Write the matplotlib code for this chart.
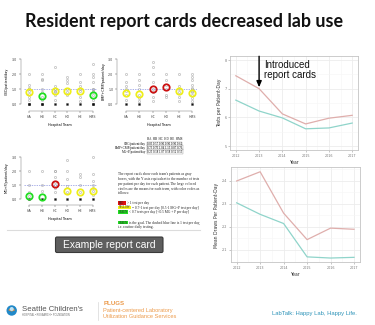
import matplotlib
matplotlib.use("Agg")
import matplotlib.pyplot as plt
from matplotlib.patches import FancyBboxPatch, Rectangle, Circle, Wedge

# ---------------- data ----------------
years = [2012, 2013, 2014, 2015, 2016, 2017]
tests_group1 = [7.45, 7.00, 6.12, 5.77, 5.97, 6.07]
tests_group2 = [6.60, 6.22, 5.98, 5.60, 5.63, 5.80]
draws_group1 = [2.400, 2.440, 2.260, 2.145, 2.195, 2.190]
draws_group2 = [2.305, 2.255, 2.215, 2.070, 2.065, 2.068]

teams = ["HA", "HB", "HC", "HD", "HE", "HMS"]
cbc_means = [0.83, 0.57, 0.90, 0.90, 0.90, 0.62]
bmp_means = [0.73, 0.70, 1.04, 1.15, 0.87, 0.76]
mgp_means = [0.25, 0.18, 1.07, 0.58, 0.52, 0.55]
cbc_colors = ["yellow", "green", "yellow", "yellow", "yellow", "green"]
bmp_colors = ["yellow", "yellow", "red", "red", "yellow", "yellow"]
mgp_colors = ["green", "green", "red", "yellow", "yellow", "yellow"]

cbc_patients = [
    [2.0, 1.3, 1.1, 1.0, 0.9, 0.7, 0.5, 0.3, 0.0, 0.0],
    [2.0, 1.7, 1.6, 1.0, 0.8, 0.5, 0.3, 0.0, 0.0],
    [2.5, 1.2, 1.0, 0.9, 0.8, 0.6, 0.3, 0.0],
    [1.8, 1.6, 1.4, 1.0, 0.8, 0.6, 0.0],
    [2.0, 1.5, 1.2, 1.0, 0.9, 0.5, 0.2, 0.0],
    [2.7, 2.0, 1.8, 1.5, 1.0, 1.0, 0.9, 0.8, 0.6, 0.3, 0.0, 0.0],
]
bmp_patients = [
    [2.0, 1.5, 1.2, 1.0, 0.9, 0.6, 0.3, 0.0],
    [2.0, 1.6, 1.3, 1.0, 0.6, 0.4, 0.2, 0.0],
    [2.8, 2.5, 2.0, 1.5, 1.0, 0.8, 0.5, 0.2],
    [2.0, 1.6, 1.3, 1.0, 0.6, 0.5],
    [2.0, 1.2, 1.0, 0.8, 0.5, 0.2],
    [2.0, 1.8, 1.6, 1.3, 1.1, 1.0, 0.9, 0.8, 0.6, 0.4, 0.2, 0.0],
]
mgp_patients = [
    [2.0, 1.0, 0.5, 0.2, 0.0],
    [2.0, 1.0, 0.6, 0.0],
    [2.0, 2.0, 1.6, 1.2, 1.0, 0.8, 0.5, 0.0],
    [2.8, 2.0, 1.4, 0.9, 0.5, 0.0],
    [1.8, 1.6, 1.0, 0.5, 0.0],
    [3.0, 1.8, 1.3, 1.0, 0.8, 0.6, 0.3, 0.0],
]

W, H = 375, 325
fig = plt.figure(figsize=(W / 100, H / 100), dpi=100)
fig.patch.set_facecolor("white")


def box(x0, y0, x1, y1):
    return [x0 / W, 1 - y1 / H, (x1 - x0) / W, (y1 - y0) / H]


# overlay in pixel coordinates for slide furniture
ov = fig.add_axes([0, 0, 1, 1])
ov.set_xlim(0, W)
ov.set_ylim(H, 0)
ov.axis("off")

SANS = ["Liberation Sans", "DejaVu Sans"]
SERIF = ["Liberation Serif", "DejaVu Serif"]

ov.text(184, 22, "Resident report cards decreased lab use", ha="center", va="center",
        fontsize=12.9, fontweight="bold", family=["Lato", "DejaVu Sans"], color="#111111")

# ---------------- report card ----------------
mark_col = {"yellow": "#eeee1a", "green": "#22dd22", "red": "#cc1111"}


def card_panel(rect, patients, means, colors, ylab):
    ax = fig.add_axes(box(*rect))
    ax.set_xlim(-0.45, 5.35)
    ax.set_ylim(-0.25, 3.3)
    for i, vals in enumerate(patients):
        for v in vals:
            if v == 0.0:
                ax.plot(i, v, "s", ms=1.4, mfc="#111111", mec="#111111", mew=0.2)
            else:
                ax.plot(i, v, "s", ms=1.2, mfc="none", mec="#9a9a9a", mew=0.35)
    ax.axhline(1.0, color="#8a93e0", lw=0.5, ls=(0, (2, 1.5)))
    for i, (m, c) in enumerate(zip(means, colors)):
        ax.plot(i, m, "o", ms=4.6, mfc="none", mec=mark_col[c], mew=1.3)
    ax.set_xticks(range(len(teams)))
    ax.set_xticklabels(teams)
    ax.set_yticks([0, 1, 2, 3])
    ax.set_yticklabels(["0.0", "1.0", "2.0", "3.0"], rotation=90, va="center")
    ax.tick_params(labelsize=2.3, length=1.2, width=0.3, pad=1.5, colors="#444444")
    for s in ["top", "right"]:
        ax.spines[s].set_visible(False)
    for s in ["left", "bottom"]:
        ax.spines[s].set_linewidth(0.3)
        ax.spines[s].set_color("#666666")
    ax.spines["left"].set_bounds(0, 3)
    ax.spines["bottom"].set_bounds(0, 5)
    ax.spines["left"].set_position(("outward", 2))
    ax.spines["bottom"].set_position(("outward", 2))
    ax.set_xlabel("Hospital Team", fontsize=2.4, labelpad=3)
    ax.set_ylabel(ylab, fontsize=2.4, labelpad=2)
    ax.patch.set_alpha(0)
    return ax


card_panel((23.5, 55, 97, 108), cbc_patients, cbc_means, cbc_colors, "CBC/patient/day")
card_panel((120, 55, 197, 108), bmp_patients, bmp_means, bmp_colors, "BMP+CMP/patient/day")
card_panel((23.5, 153, 97, 202.5), mgp_patients, mgp_means, mgp_colors, "MG+P/patient/day")

# summary table
ov.text(147, 139.5, "  ".join(teams), fontsize=2.2, family=SERIF, ha="left", va="center")
for k, (name, vals) in enumerate([("CBC/patient/day", cbc_means),
                                  ("BMP+CMP/patient/day", bmp_means),
                                  ("MG+P/patient/day", mgp_means)]):
    y = 144 + k * 3.8
    ov.text(146, y, name, fontsize=2.3, family=SERIF, ha="right", va="center")
    ov.text(147, y, " ".join(f"{v:.2f}" for v in vals), fontsize=2.2, family=SERIF,
            ha="left", va="center",
            bbox=dict(boxstyle="square,pad=0.1", fc="none", ec="#666666", lw=0.2))

para = ["The report cards show each team's patients as gray",
        "boxes, with the Y axis equivalent to the number of tests",
        "per patient per day for each patient. The large colored",
        "circles are the means for each team, with color codes as",
        "follows:"]
for k, line in enumerate(para):
    ov.text(118, 173.5 + k * 5.0, line, fontsize=2.6, family=SERIF, ha="left", va="center",
            color="#222222")

legend_rows = [
    (203.0, "RED", "#dd1111", 8, "> 1 test per day"),
    (207.5, "YELLOW", "#f2f21a", 13, "= 0.7-1 test per day [0.5-1 MG+P test per day]"),
    (211.7, "GREEN", "#22dd22", 10, "< 0.7 tests per day [<0.5 MG + P per day]"),
    (222.5, "GREEN", "#22dd22", 10, "is the goal. The dashed blue line is 1 test per day,"),
]
for y, tag, col, w, txt in legend_rows:
    ov.add_patch(Rectangle((118, y - 1.9), w, 3.8, fc=col, ec="none"))
    ov.text(118.5, y, tag, fontsize=2.0, family=SERIF, ha="left", va="center", color="#222222")
    ov.text(118 + w + 1, y, txt, fontsize=2.6, family=SERIF, ha="left", va="center",
            color="#222222")
ov.text(118, 227, "i.e. routine daily testing.", fontsize=2.6, family=SERIF, ha="left",
        va="center", color="#222222")

ov.plot([7, 200], [229.5, 229.5], color="#dcdcdc", lw=0.8)

# caption button
ov.add_patch(FancyBboxPatch((55.5, 237), 107.5, 15.5, boxstyle="round,pad=0,rounding_size=1.5",
                            fc="#5e5e5e", ec="#3a3a3a", lw=0.8))
ov.text(109, 245, "Example report card", ha="center", va="center", fontsize=7.4,
        family=SANS, color="white")

# ---------------- trend charts ----------------
PINK = "#dfaeac"
TEAL = "#8fd4ca"


def gg(rect, y1, y2, ylim, yticks, yminor, ylab):
    ax = fig.add_axes(box(*rect))
    ax.set_xlim(2011.75, 2017.25)
    ax.set_ylim(*ylim)
    ax.set_xticks(years)
    ax.set_xticklabels([str(y) for y in years])
    ax.set_xticks([y + 0.5 for y in years[:-1]], minor=True)
    ax.set_yticks(yticks)
    ax.set_yticks(yminor, minor=True)
    ax.grid(which="major", color="#ececec", lw=0.6)
    ax.grid(which="minor", color="#f6f6f6", lw=0.4)
    ax.set_axisbelow(True)
    for s in ax.spines.values():
        s.set_color("#c4c4c4")
        s.set_linewidth(0.6)
    ax.tick_params(which="major", length=1.3, width=0.4, color="#999999", labelsize=2.4,
                   labelcolor="#777777", pad=1.2)
    ax.tick_params(which="minor", length=0)
    ax.plot(years, y1, color=PINK, lw=0.9)
    ax.plot(years, y2, color=TEAL, lw=0.9)
    ax.set_xlabel("Year", fontsize=3.3, labelpad=1.5, color="#333333")
    ax.set_ylabel(ylab, fontsize=3.3, labelpad=1.8, color="#333333")
    return ax


top = gg((230, 55.7, 358, 150.3), tests_group1, tests_group2, (4.85, 8.15),
         [5, 6, 7, 8], [5.5, 6.5, 7.5], "Tests per Patient-Day")
top.set_yticklabels(["5", "6", "7", "8"])
top.annotate("", xy=(2013, 7.05), xytext=(2013, 8.13),
             arrowprops=dict(arrowstyle="-|>,head_length=0.35,head_width=0.15",
                             color="black", lw=1.0, shrinkA=0, shrinkB=0))
top.text(2013.2, 7.65, "Introduced\nreport cards", fontsize=7, family=SANS, ha="left",
         va="center", linespacing=1.0, color="#111111")

bot = gg((230.8, 167.4, 359.9, 262.4), draws_group1, draws_group2, (2.046, 2.459),
         [2.1, 2.2, 2.3, 2.4], [2.15, 2.25, 2.35, 2.45], "Mean Draws Per Patient-Day")

# ---------------- footer ----------------
ov.add_patch(Circle((11.7, 310.5), 5.2, fc="#2289c8", ec="none"))
ov.add_patch(Wedge((11.7, 311.5), 3.4, 200, 340, fc="#f28c2a", ec="none"))
ov.add_patch(Circle((11.7, 309.0), 2.0, fc="#bfe3f5", ec="none"))
ov.text(22.5, 309.3, "Seattle Children's", fontsize=5.6, family=SANS, ha="left",
        va="center", color="#555555")
ov.text(22.5, 315.3, "HOSPITAL • RESEARCH • FOUNDATION", fontsize=1.8, family=SANS,
        ha="left", va="center", color="#666666")
ov.plot([97.5, 97.5], [301.5, 320], color="#d8d8d8", lw=0.5)
ov.text(103.3, 303.5, "PLUGS", fontsize=4.4, family=SANS, fontweight="bold", ha="left",
        va="center", color="#ec9a4a")
ov.text(103.3, 310.6, "Patient-centered Laboratory", fontsize=4.1, family=SANS, ha="left",
        va="center", color="#ec9a4a")
ov.text(103.3, 316.6, "Utilization Guidance Services", fontsize=4.1, family=SANS, ha="left",
        va="center", color="#ec9a4a")
ov.text(271.5, 314, "LabTalk: Happy Lab, Happy Life.", fontsize=4.2, family=SANS, ha="left",
        va="center", color="#2d93b8")

fig.savefig("out.png", dpi=100, facecolor="white")
